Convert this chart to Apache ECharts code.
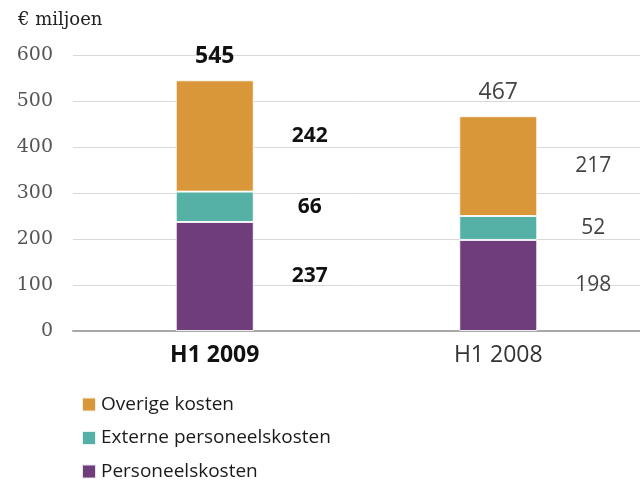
<!DOCTYPE html>
<html><head><meta charset="utf-8">
<script src="https://cdn.jsdelivr.net/npm/echarts@6/dist/echarts.min.js"></script>
<style>html,body{margin:0;padding:0;background:#fff}#c{width:640px;height:481px}</style>
</head><body><div id="c"></div>
<script>
var categories = ['H1 2009', 'H1 2008'];
var personeelskosten = [237, 198];
var externe = [66, 52];
var overige = [242, 217];
var totals = [545, 467];
var yTicks = [0, 100, 200, 300, 400, 500, 600];
var seriesNames = ['Personeelskosten', 'Externe personeelskosten', 'Overige kosten'];

var SANS = '"Open Sans", sans-serif';
var SERIF = '"DejaVu Serif", serif';

function items(vals) {
  return vals.map(function (v, i) {
    return {
      value: v,
      label: {
        fontWeight: i === 0 ? 'bold' : 'normal',
        color: i === 0 ? '#111' : '#444'
      }
    };
  });
}
function seg(name, vals, color) {
  return {
    name: name, type: 'bar', stack: 'k', barWidth: 78,
    data: items(vals),
    itemStyle: { color: color, borderColor: 'rgba(255,255,255,0.85)', borderWidth: 1 },
    label: { show: true, position: 'inside', offset: [95, 0], fontFamily: SANS, fontSize: 21 }
  };
}

var chart = echarts.init(document.getElementById('c'), null, { renderer: 'canvas' });
chart.setOption({
  animation: false,
  title: { text: '€ miljoen', left: 13, top: 6, textStyle: { fontFamily: SERIF, fontSize: 18, fontWeight: 'normal', color: '#222' } },
  grid: { left: 73, right: 0, top: 55, bottom: 150, containLabel: false },
  legend: {
    orient: 'vertical', left: 81, top: 395, height: 200, padding: 0, itemWidth: 14, itemHeight: 14, itemGap: 14.5,
    data: [seriesNames[2], seriesNames[1], seriesNames[0]],
    textStyle: { fontFamily: SANS, fontSize: 19, lineHeight: 19, color: '#1a1a1a' },
    icon: 'rect'
  },
  xAxis: {
    type: 'category', data: categories,
    axisLine: { lineStyle: { color: '#a8a8a8', width: 2 } },
    axisTick: { show: false },
    axisLabel: {
      margin: 13,
      formatter: function (v, i) { return i === 0 ? '{b|' + v + '}' : '{n|' + v + '}'; },
      rich: {
        b: { fontFamily: SANS, fontSize: 23, fontWeight: 'bold', color: '#111' },
        n: { fontFamily: SANS, fontSize: 23, color: '#333' }
      }
    }
  },
  yAxis: {
    type: 'value', min: yTicks[0], max: yTicks[yTicks.length - 1], interval: 100,
    axisLine: { show: false }, axisTick: { show: false },
    splitLine: { lineStyle: { color: '#d9d9d9', width: 1 } },
    axisLabel: { margin: 20, fontFamily: SERIF, fontSize: 19, color: '#555' }
  },
  series: [
    seg(seriesNames[0], personeelskosten, '#6f3d7b'),
    seg(seriesNames[1], externe, '#55b0a6'),
    seg(seriesNames[2], overige, '#d9973a'),
    {
      name: 'totaal', type: 'bar', barWidth: 78, barGap: '-100%', silent: true,
      data: totals.map(function (v, i) {
        return { value: v, label: { fontWeight: i === 0 ? 'bold' : 'normal', color: i === 0 ? '#111' : '#444' } };
      }),
      itemStyle: { color: 'rgba(0,0,0,0)' },
      label: { show: true, position: 'top', distance: 12, fontFamily: SANS, fontSize: 23 },
      z: 1
    }
  ]
});
</script></body></html>
